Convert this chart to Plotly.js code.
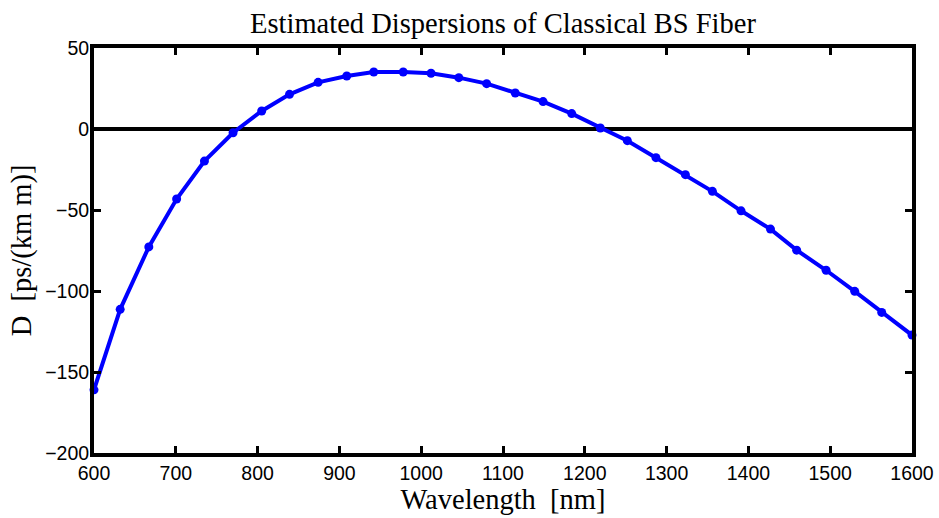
<!DOCTYPE html>
<html>
<head>
<meta charset="utf-8">
<script src="https://cdn.plot.ly/plotly-3.0.1.min.js"></script>
<style>
  html, body { margin: 0; padding: 0; background: #fff; }
  #chart { width: 939px; height: 518px; }
</style>
</head>
<body>
<div id="chart"></div>
<script>
// Wavelength samples [nm]
const wavelength = [600, 632, 667, 701, 735, 770, 805, 839, 874, 909,
                    942, 978, 1012, 1046, 1080, 1115, 1149, 1184, 1219, 1252,
                    1287, 1323, 1356, 1391, 1427, 1459, 1495, 1530, 1563, 1600];
// Estimated dispersion D [ps/(km m)]
const dispersion = [-161, -111.3, -72.8, -43.2, -19.8, -2.3, 11.1, 21.4, 28.8, 32.7,
                    35.2, 35.2, 34.4, 31.7, 28, 22.2, 16.9, 9.5, 0.6, -7.2,
                    -17.7, -28.2, -38.5, -50.5, -61.8, -74.8, -87.2, -100.2, -113.2, -127.2];

const xTicks = [600, 700, 800, 900, 1000, 1100, 1200, 1300, 1400, 1500, 1600];
const yTicks = [-200, -150, -100, -50, 0, 50];

// negative labels use a true minus sign
const fmt = v => (v < 0 ? '\u2212' + Math.abs(v) : String(v));

const trace = {
  x: wavelength,
  y: dispersion,
  type: 'scatter',
  mode: 'lines+markers',
  line: { color: '#0000ff', width: 4 },
  marker: { color: '#0000ff', size: 9 },
  cliponaxis: false,
  hoverinfo: 'x+y'
};

const tickFont = { family: 'Liberation Sans, Arial, sans-serif', size: 19.5, color: '#000' };
const titleFont = { family: 'Liberation Serif, Times New Roman, serif', size: 28.5, color: '#000' };

const layout = {
  width: 939,
  height: 518,
  margin: { l: 94, r: 27, t: 48, b: 65 },
  paper_bgcolor: '#fff',
  plot_bgcolor: '#fff',
  showlegend: false,
  title: {
    text: 'Estimated Dispersions of Classical BS Fiber',
    font: titleFont,
    x: 0.5357, xanchor: 'center',
    y: 0.955, yanchor: 'middle'
  },
  xaxis: {
    range: [600, 1600],
    tickvals: xTicks,
    ticktext: xTicks.map(fmt),
    ticks: 'inside',
    ticklen: 7,
    tickwidth: 3,
    tickcolor: '#000',
    showline: true,
    linecolor: '#000',
    linewidth: 4,
    mirror: 'ticks',
    showgrid: false,
    zeroline: false,
    tickfont: tickFont,
    ticklabelstandoff: 0,
    automargin: false,
    title: { text: 'Wavelength  [nm]', font: titleFont, standoff: 0 }
  },
  yaxis: {
    range: [-200, 50],
    tickvals: yTicks,
    ticktext: yTicks.map(fmt),
    ticks: 'inside',
    ticklen: 7,
    tickwidth: 3,
    tickcolor: '#000',
    showline: true,
    linecolor: '#000',
    linewidth: 4,
    mirror: 'ticks',
    showgrid: false,
    zeroline: true,
    zerolinecolor: '#000',
    zerolinewidth: 4,
    tickfont: tickFont,
    ticklabelstandoff: -3,
    automargin: false,
    title: { text: 'D  [ps/(km m)]', font: titleFont, standoff: 6 }
  }
};

Plotly.newPlot('chart', [trace], layout, { displayModeBar: false, staticPlot: true });
</script>
</body>
</html>
